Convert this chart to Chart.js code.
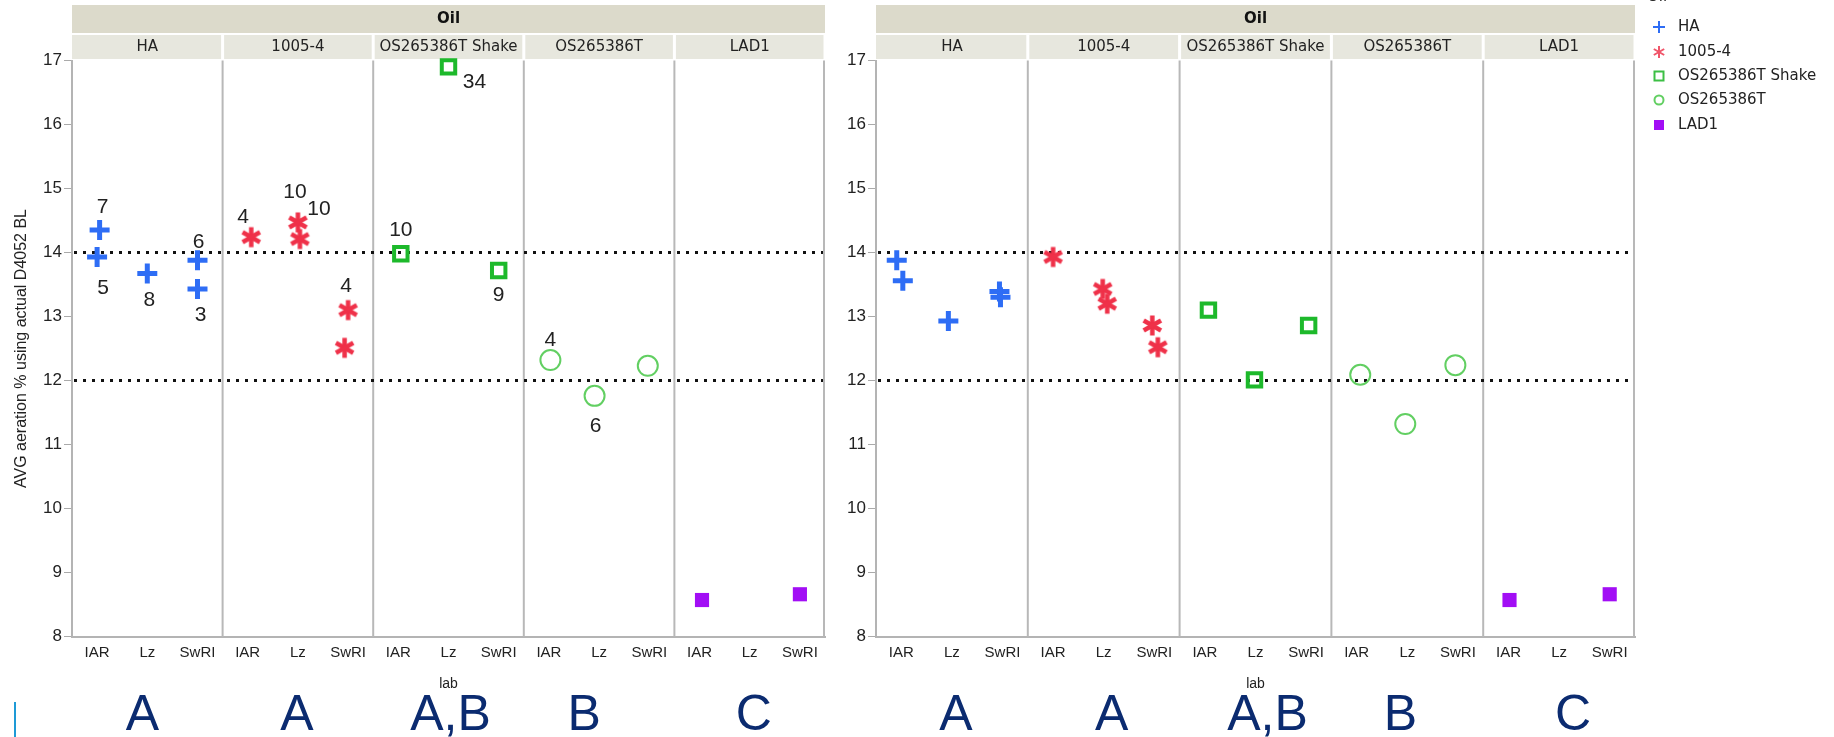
<!DOCTYPE html>
<html lang="en">
<head>
  <meta charset="UTF-8" />
  <title>AVG aeration by oil and lab</title>
  <script src="https://cdn.jsdelivr.net/npm/chart.js"></script>
  <style>
    html, body { margin: 0; padding: 0; background: #fff; }
    body { width: 1834px; height: 737px; position: relative; overflow: hidden; }
    canvas { position: absolute; top: 0; }
    #leftChart { left: 0; }
    #rightChart { left: 840px; }
  </style>
</head>
<body>

  <canvas id="leftChart" width="840" height="737"></canvas>
  <canvas id="rightChart" width="994" height="737"></canvas>

  <script>
    // categories
    const labs = ['IAR', 'Lz', 'SwRI'];
    const oils = ['HA', '1005-4', 'OS265386T Shake', 'OS265386T', 'LAD1'];
    const groupLetters = ['A', 'A', 'A,B', 'B', 'C'];
    const refLines = [14, 12];

    // left chart: one entry per point (oil index, lab index, jitter, value, count)
    const leftOil   = [0, 0, 0, 0, 0, 1, 1, 1, 1, 1, 2, 2, 2, 3, 3, 3, 4, 4];
    const leftLab   = [0, 0, 1, 2, 2, 0, 1, 1, 2, 2, 0, 1, 2, 0, 1, 2, 0, 2];
    const leftJit   = [0.05, 0, 0, 0, 0, 0.07, 0, 0.04, 0, -0.07, 0.05, 0, 0, 0.03, -0.09, -0.03, 0.05, 0];
    const leftValue = [14.35, 13.93, 13.67, 13.88, 13.43, 14.24, 14.47, 14.21, 13.10, 12.51,
                       13.98, 16.90, 13.72, 12.32, 11.76, 12.23, 8.57, 8.66];
    const leftCount = [7, 5, 8, 6, 3, 4, 10, 10, 4, null, 10, 34, 9, 4, 6, null, null, null];

    // right chart
    const rightOil   = [0, 0, 0, 0, 0, 1, 1, 1, 1, 1, 2, 2, 2, 3, 3, 3, 4, 4];
    const rightLab   = [0, 0, 1, 2, 2, 0, 1, 1, 2, 2, 0, 1, 2, 0, 1, 2, 0, 2];
    const rightJit   = [-0.09, 0.03, -0.07, -0.06, -0.04, 0, -0.02, 0.07, -0.04, 0.07,
                        0.07, -0.02, 0.05, 0.07, -0.04, -0.05, 0.02, 0];
    const rightValue = [13.88, 13.56, 12.93, 13.39, 13.30, 13.93, 13.43, 13.20, 12.86, 12.52,
                        13.10, 12.01, 12.86, 12.09, 11.32, 12.24, 8.57, 8.66];

    // where the count text sits relative to its point (px)
    const leftCountPos = [[3, -23], [6, 31], [2, 27], [1, -18], [3, 26],
                          [-8, -20], [-3, -30], [19, -30], [-2, -24], null,
                          [0, -24], [26, 15], [0, 25], [0, -20], [1, 30], null, null, null];

    const colors = ['#2e6df5', '#ef3149', '#1db92b', '#62cf62', '#a20ef5'];

    function makeAsterisk(size, lw, color) {
      const c = document.createElement('canvas');
      c.width = c.height = Math.ceil(size + lw * 2);
      const g = c.getContext('2d');
      g.strokeStyle = color;
      g.lineWidth = lw;
      const m = c.width / 2, r = size / 2;
      [90, 30, -30].forEach(a => {
        const t = a * Math.PI / 180;
        g.beginPath();
        g.moveTo(m - r * Math.cos(t), m - r * Math.sin(t));
        g.lineTo(m + r * Math.cos(t), m + r * Math.sin(t));
        g.stroke();
      });
      return c;
    }
    const asterisk = makeAsterisk(20, 4.5, colors[1]);

    const pointLook = [
      { pointStyle: 'cross', pointRadius: 10, borderWidth: 5, borderColor: colors[0], backgroundColor: colors[0] },
      { pointStyle: asterisk, pointRadius: 10, borderWidth: 0, borderColor: colors[1], backgroundColor: colors[1] },
      { pointStyle: 'rect', pointRadius: 9.5, borderWidth: 4, borderColor: colors[2], backgroundColor: 'rgba(0,0,0,0)' },
      { pointStyle: 'circle', pointRadius: 10, borderWidth: 2, borderColor: colors[3], backgroundColor: 'rgba(0,0,0,0)' },
      { pointStyle: 'rect', pointRadius: 10, borderWidth: 0, borderColor: colors[4], backgroundColor: colors[4] }
    ];

    function buildDatasets(oilIdx, labIdx, jit, values, counts) {
      return oils.map((name, o) => {
        const pts = [];
        values.forEach((v, i) => {
          if (oilIdx[i] !== o) return;
          pts.push({ x: o * 3 + labIdx[i] + jit[i], y: v, n: counts ? counts[i] : null, k: i });
        });
        return Object.assign({ label: name, data: pts, clip: false, showLine: false }, pointLook[o]);
      });
    }

    const facetPlugin = {
      id: 'facets',
      beforeDraw(chart) {
        const { ctx, chartArea: a, scales: { x } } = chart;
        ctx.save();
        // top "Oil" band
        ctx.fillStyle = '#dcdacb';
        ctx.fillRect(a.left, 5, a.right - a.left, 28);
        ctx.fillStyle = '#111';
        ctx.font = 'bold 15px "DejaVu Sans"';
        ctx.textAlign = 'center';
        ctx.textBaseline = 'middle';
        ctx.fillText('Oil', (a.left + a.right) / 2, 19);
        // per-oil sub headers
        ctx.font = '15px "DejaVu Sans"';
        oils.forEach((name, o) => {
          const x0 = x.getPixelForValue(o * 3 - 0.5), x1 = x.getPixelForValue(o * 3 + 2.5);
          ctx.fillStyle = '#e7e7de';
          ctx.fillRect(x0 + (o ? 1.5 : 0), 35, x1 - x0 - (o ? 3 : 1.5), 24);
          ctx.fillStyle = '#222';
          ctx.fillText(name, (x0 + x1) / 2, 47);
        });
        ctx.restore();
      },
      beforeDatasetsDraw(chart) {
        const { ctx, chartArea: a, scales: { x, y } } = chart;
        ctx.save();
        ctx.strokeStyle = '#b8b8b8';
        ctx.lineWidth = 2;
        for (let o = 1; o <= oils.length; o++) {
          const px = Math.min(x.getPixelForValue(o * 3 - 0.5), a.right - 1);
          ctx.beginPath();
          ctx.moveTo(px, a.top);
          ctx.lineTo(px, a.bottom);
          ctx.stroke();
        }
        ctx.strokeStyle = '#111';
        ctx.lineWidth = 3;
        ctx.setLineDash([3, 6]);
        refLines.forEach(v => {
          const py = y.getPixelForValue(v);
          ctx.beginPath();
          ctx.moveTo(a.left + 2, py);
          ctx.lineTo(a.right - 2, py);
          ctx.stroke();
        });
        ctx.restore();
      },
      afterDatasetsDraw(chart) {
        const { ctx } = chart;
        const pos = chart.options.plugins.facets.countPos;
        if (!pos) return;
        ctx.save();
        ctx.fillStyle = '#222';
        ctx.font = '21px "Liberation Sans"';
        ctx.textAlign = 'center';
        ctx.textBaseline = 'middle';
        chart.data.datasets.forEach((ds, d) => {
          const meta = chart.getDatasetMeta(d);
          ds.data.forEach((p, j) => {
            if (p.n == null || !pos[p.k]) return;
            const el = meta.data[j];
            ctx.fillText(String(p.n), el.x + pos[p.k][0], el.y + pos[p.k][1]);
          });
        });
        ctx.restore();
      },
      afterDraw(chart) {
        const { ctx, scales: { x } } = chart;
        const opts = chart.options.plugins.facets;
        ctx.save();
        ctx.fillStyle = '#0b2b70';
        ctx.font = '50px "Liberation Sans"';
        ctx.textAlign = 'center';
        ctx.textBaseline = 'middle';
        groupLetters.forEach((t, o) => {
          ctx.fillText(t, x.getPixelForValue(o * 3 + 1) + opts.letterShift[o], 716);
        });
        if (opts.cyanBar) {
          ctx.fillStyle = '#1e9ad6';
          ctx.fillRect(14, 702, 2, 35);
        }
        if (opts.legendX != null) drawLegend(ctx, opts.legendX);
        ctx.restore();
      }
    };

    function drawLegend(ctx, lx) {
      const tx = lx + 19;
      const rows = [27, 52, 76, 100, 125];
      ctx.font = '15px "DejaVu Sans"';
      ctx.textAlign = 'left';
      ctx.textBaseline = 'middle';
      ctx.fillStyle = '#222';
      ctx.fillText('Oil', lx - 12, -3);
      rows.forEach((ry, o) => {
        ctx.strokeStyle = colors[o];
        ctx.fillStyle = colors[o];
        ctx.lineWidth = 2;
        ctx.beginPath();
        if (o === 0) {
          ctx.moveTo(lx - 6, ry); ctx.lineTo(lx + 6, ry);
          ctx.moveTo(lx, ry - 6); ctx.lineTo(lx, ry + 6);
          ctx.stroke();
        } else if (o === 1) {
          [90, 30, -30].forEach(a => {
            const t = a * Math.PI / 180;
            ctx.moveTo(lx - 6 * Math.cos(t), ry - 6 * Math.sin(t));
            ctx.lineTo(lx + 6 * Math.cos(t), ry + 6 * Math.sin(t));
          });
          ctx.strokeStyle = '#f0566a';
          ctx.stroke();
        } else if (o === 2) {
          ctx.strokeStyle = '#3cbf45';
          ctx.strokeRect(lx - 4.5, ry - 4.5, 9, 9);
        } else if (o === 3) {
          ctx.arc(lx, ry, 4.5, 0, Math.PI * 2);
          ctx.stroke();
        } else {
          ctx.fillRect(lx - 5, ry - 5, 10, 10);
        }
        ctx.fillStyle = '#222';
        ctx.fillText(oils[o], tx, ry);
      });
    }

    function makeChart(id, datasets, cfg) {
      return new Chart(document.getElementById(id), {
        type: 'scatter',
        data: { datasets },
        options: {
          responsive: false,
          devicePixelRatio: 1,
          animation: false,
          events: [],
          layout: { padding: { top: 60.5, right: cfg.padRight, bottom: 0, left: 0 } },
          plugins: {
            legend: { display: false },
            tooltip: { enabled: false },
            facets: cfg.facets
          },
          scales: {
            x: {
              type: 'linear',
              min: -0.5,
              max: 14.5,
              afterFit: s => { s.height = 100.5; },
              afterBuildTicks: s => { s.ticks = Array.from({ length: 15 }, (_, i) => ({ value: i })); },
              grid: { display: false, drawTicks: false },
              border: { display: true, color: '#b4b4b4', width: 2 },
              ticks: {
                autoSkip: false,
                maxRotation: 0,
                padding: 7,
                color: '#222',
                font: { family: 'Liberation Sans', size: 15 },
                callback: v => labs[v % 3]
              },
              title: {
                display: true,
                text: 'lab',
                color: '#222',
                font: { family: 'Liberation Sans', size: 14 },
                padding: { top: 0, bottom: 44.6 }
              }
            },
            y: {
              min: 8,
              max: 17,
              afterFit: s => { s.width = cfg.yWidth; },
              ticks: {
                stepSize: 1,
                padding: 2,
                color: '#222',
                font: { family: 'Liberation Sans', size: 17 }
              },
              grid: { drawOnChartArea: false, drawTicks: true, tickLength: 8, tickColor: '#aaa', tickWidth: 1 },
              border: { display: true, color: '#b4b4b4', width: 2 },
              title: {
                display: cfg.yTitle,
                text: 'AVG aeration % using actual D4052 BL',
                color: '#222',
                font: { family: 'Liberation Sans', size: 16 },
                padding: { top: 12, bottom: 0 }
              }
            }
          }
        },
        plugins: [facetPlugin]
      });
    }

    makeChart('leftChart', buildDatasets(leftOil, leftLab, leftJit, leftValue, leftCount), {
      padRight: 8,
      yWidth: 72,
      yTitle: true,
      facets: { countPos: leftCountPos, letterShift: [-5, -1, 2, -15, 4], cyanBar: true, legendX: null }
    });

    makeChart('rightChart', buildDatasets(rightOil, rightLab, rightJit, rightValue, null), {
      padRight: 199,
      yWidth: 36,
      yTitle: false,
      facets: { countPos: null, letterShift: [4, 8, 12, -7, 14], cyanBar: false, legendX: 1659 - 840 }
    });
  </script>

</body>
</html>
